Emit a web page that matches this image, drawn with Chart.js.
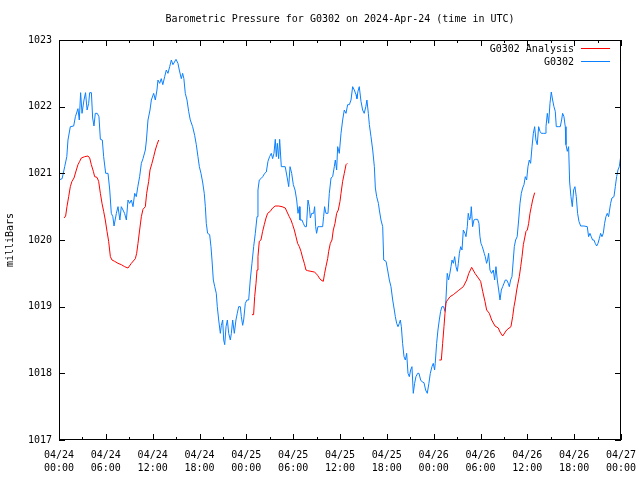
<!DOCTYPE html>
<html>
<head>
<meta charset="utf-8">
<script src="https://cdn.jsdelivr.net/npm/chart.js@4.4.1/dist/chart.umd.min.js"></script>
<style>
  html, body { margin: 0; padding: 0; background: #fff; }
  canvas { display: block; }
</style>
</head>
<body>
<canvas id="pressureChart" width="640" height="480"></canvas>
<script>
// hours since 04/24 00:00 UTC
const stationHours = [
  0.0, 0.4, 0.73, 1.0, 1.15, 1.45, 1.88, 2.1, 2.43, 2.6, 2.77, 2.95, 3.2, 3.4, 3.6, 3.8, 3.93, 4.15, 4.31, 4.48,
  4.65, 4.9, 5.12, 5.3, 5.55, 5.72, 5.98, 6.28, 6.5, 6.7, 6.9, 7.05, 7.35, 7.56, 7.8, 7.98, 8.2, 8.4, 8.63, 8.84,
  9.05, 9.27, 9.48, 9.7, 9.9, 10.1, 10.33, 10.55, 10.76, 11.06, 11.2, 11.4, 11.66, 11.83, 12.13, 12.34, 12.55, 12.68, 12.9, 13.1,
  13.3, 13.54, 13.75, 13.96, 14.18, 14.39, 14.6, 14.99, 15.24, 15.41, 15.67, 15.84, 16.0, 16.18, 16.4, 16.61, 16.82, 17.12, 17.38, 17.59,
  17.8, 17.98, 18.19, 18.4, 18.61, 18.75, 18.87, 19.04, 19.3, 19.47, 19.6, 19.77, 19.95, 20.15, 20.28, 20.46, 20.67, 20.8, 20.97, 21.1,
  21.23, 21.4, 21.57, 21.74, 21.95, 22.08, 22.25, 22.46, 22.67, 22.84, 23.02, 23.23, 23.36, 23.53, 23.66, 23.87, 24.08, 24.3, 24.5, 24.72,
  24.94, 25.15, 25.37, 25.49, 25.66, 25.87, 26.1, 26.35, 26.56, 26.77, 26.98, 27.2, 27.37, 27.54, 27.71, 27.84, 27.97, 28.14, 28.27, 28.48,
  28.7, 28.98, 29.08, 29.29, 29.43, 29.6, 29.81, 30.02, 30.24, 30.45, 30.62, 30.79, 30.87, 31.13, 31.3, 31.5, 31.7, 31.9, 32.07, 32.2,
  32.37, 32.62, 32.75, 32.88, 33.0, 33.17, 33.35, 33.56, 33.78, 33.9, 34.03, 34.2, 34.46, 34.63, 34.85, 35.06, 35.27, 35.4, 35.57, 35.7,
  35.91, 36.13, 36.34, 36.55, 36.77, 36.98, 37.2, 37.41, 37.62, 37.83, 38.05, 38.17, 38.3, 38.47, 38.69, 38.9, 39.1, 39.31, 39.45, 39.63,
  39.76, 39.97, 40.19, 40.4, 40.53, 40.7, 40.92, 41.04, 41.25, 41.47, 41.6, 41.9, 42.1, 42.32, 42.53, 42.75, 42.96, 43.09, 43.26, 43.43,
  43.6, 43.73, 43.86, 44.02, 44.2, 44.37, 44.54, 44.71, 44.88, 45.05, 45.22, 45.39, 45.56, 45.73, 45.95, 46.12, 46.33, 46.55, 46.76, 46.97,
  47.18, 47.39, 47.57, 47.78, 47.95, 48.12, 48.2, 48.38, 48.55, 48.72, 48.89, 49.06, 49.27, 49.45, 49.57, 49.74, 49.91, 50.08, 50.22, 50.35,
  50.52, 50.69, 50.86, 51.03, 51.16, 51.29, 51.46, 51.63, 51.8, 52.01, 52.14, 52.31, 52.43, 52.6, 52.73, 52.82, 52.99, 53.16, 53.33, 53.63,
  53.8, 53.93, 54.06, 54.23, 54.36, 54.48, 54.61, 54.78, 54.91, 55.04, 55.21, 55.42, 55.64, 55.81, 55.98, 56.15, 56.33, 56.5, 56.67, 56.84,
  57.01, 57.18, 57.35, 57.56, 57.69, 57.86, 58.03, 58.2, 58.33, 58.5, 58.7, 58.89, 59.06, 59.23, 59.4, 59.57, 59.74, 59.91, 60.08, 60.25,
  60.42, 60.6, 60.77, 60.94, 61.1, 61.27, 61.45, 61.62, 61.79, 62.05, 62.3, 62.39, 62.56, 62.73, 62.9, 63.07, 63.24, 63.41, 63.58, 63.71,
  63.96, 64.22, 64.39, 64.52, 64.69, 64.86, 64.95, 65.12, 65.29, 65.42, 65.59, 65.76, 65.93, 66.1, 66.27, 66.44, 66.61, 66.83, 67.25, 67.68,
  67.85, 68.02, 68.19, 68.36, 68.53, 68.7, 68.88, 69.05, 69.22, 69.39, 69.56, 69.73, 69.9, 70.07, 70.24, 70.41, 70.67, 70.84, 71.1, 71.27,
  71.44, 71.61, 71.78, 71.96
];
const stationPressure = [
  1020.9, 1020.92, 1021.1, 1021.25, 1021.5, 1021.7, 1021.71, 1021.85, 1021.97, 1021.8, 1022.21, 1021.9, 1022.1, 1022.21, 1021.95, 1022.05, 1022.21, 1022.21, 1021.83, 1021.71,
  1021.9, 1021.9, 1021.85, 1021.51, 1021.5, 1021.25, 1021.0, 1021.0, 1020.75, 1020.4, 1020.35, 1020.21, 1020.4, 1020.5, 1020.3, 1020.5, 1020.45, 1020.4, 1020.3, 1020.6,
  1020.55, 1020.6, 1020.5, 1020.7, 1020.65, 1020.8, 1020.95, 1021.15, 1021.22, 1021.35, 1021.5, 1021.8, 1021.95, 1022.1, 1022.2, 1022.1, 1022.25, 1022.4, 1022.35, 1022.42,
  1022.33, 1022.45, 1022.55, 1022.5, 1022.6, 1022.7, 1022.63, 1022.71, 1022.65, 1022.55, 1022.42, 1022.5, 1022.42, 1022.2, 1022.1, 1021.93, 1021.8, 1021.7, 1021.57, 1021.43,
  1021.25, 1021.1, 1021.0, 1020.87, 1020.7, 1020.5, 1020.25, 1020.1, 1020.08, 1019.9, 1019.7, 1019.4, 1019.3, 1019.2, 1019.0, 1018.8, 1018.6, 1018.72, 1018.8, 1018.5,
  1018.43, 1018.7, 1018.8, 1018.6, 1018.5, 1018.6, 1018.8, 1018.6, 1018.8, 1018.9, 1019.0, 1019.0, 1018.85, 1018.72, 1018.8, 1019.05, 1019.1, 1019.1, 1019.4, 1019.65,
  1019.9, 1020.1, 1020.35, 1020.75, 1020.9, 1020.92, 1020.95, 1021.0, 1021.02, 1021.18, 1021.25, 1021.3, 1021.22, 1021.3, 1021.51, 1021.25, 1021.45, 1021.22, 1021.51, 1021.1,
  1021.1, 1021.1, 1021.1, 1020.9, 1020.8, 1021.1, 1021.0, 1020.83, 1020.75, 1020.6, 1020.4, 1020.5, 1020.3, 1020.3, 1020.25, 1020.2, 1020.2, 1020.6, 1020.5, 1020.33,
  1020.4, 1020.4, 1020.5, 1020.2, 1020.1, 1020.2, 1020.2, 1020.2, 1020.2, 1020.35, 1020.5, 1020.4, 1020.4, 1020.7, 1020.93, 1020.95, 1021.1, 1021.2, 1021.05, 1021.4,
  1021.3, 1021.6, 1021.8, 1021.95, 1021.9, 1022.03, 1022.03, 1022.1, 1022.3, 1022.25, 1022.18, 1022.12, 1022.23, 1022.3, 1022.08, 1021.95, 1021.9, 1022.0, 1022.1, 1021.9,
  1021.73, 1021.55, 1021.35, 1021.1, 1020.78, 1020.65, 1020.55, 1020.45, 1020.3, 1020.2, 1019.7, 1019.68, 1019.55, 1019.4, 1019.3, 1019.1, 1018.95, 1018.85, 1018.75, 1018.7,
  1018.75, 1018.8, 1018.7, 1018.45, 1018.25, 1018.2, 1018.3, 1018.0, 1017.95, 1018.05, 1018.1, 1017.7, 1017.85, 1017.95, 1018.0, 1018.0, 1017.9, 1017.87, 1017.86, 1017.75,
  1017.7, 1017.85, 1018.0, 1018.1, 1018.15, 1018.05, 1018.15, 1018.45, 1018.65, 1018.8, 1018.93, 1019.0, 1019.0, 1018.93, 1019.1, 1019.5, 1019.4, 1019.5, 1019.6, 1019.7,
  1019.65, 1019.75, 1019.6, 1019.53, 1019.65, 1019.8, 1019.9, 1019.85, 1020.15, 1020.1, 1020.05, 1020.2, 1020.4, 1020.3, 1020.35, 1020.5, 1020.2, 1020.3, 1020.31, 1020.31,
  1020.25, 1020.05, 1019.95, 1019.9, 1019.85, 1019.8, 1019.75, 1019.65, 1019.7, 1019.8, 1019.55, 1019.5, 1019.55, 1019.4, 1019.6, 1019.4, 1019.25, 1019.1, 1019.25, 1019.3,
  1019.35, 1019.4, 1019.4, 1019.35, 1019.3, 1019.4, 1019.45, 1019.7, 1019.9, 1020.0, 1020.05, 1020.3, 1020.55, 1020.7, 1020.78, 1020.83, 1020.95, 1020.9, 1021.1, 1021.2,
  1021.15, 1021.4, 1021.6, 1021.7, 1021.5, 1021.43, 1021.7, 1021.63, 1021.6, 1021.6, 1021.6, 1021.7, 1021.9, 1021.75, 1022.05, 1022.22, 1022.1, 1022.0, 1021.93, 1021.7,
  1021.7, 1021.7, 1021.8, 1021.9, 1021.85, 1021.7, 1021.43, 1021.33, 1021.4, 1020.87, 1020.65, 1020.5, 1020.75, 1020.8, 1020.65, 1020.4, 1020.28, 1020.21, 1020.21, 1020.2,
  1020.05, 1020.1, 1020.05, 1020.0, 1020.0, 1019.95, 1019.91, 1019.95, 1020.02, 1020.1, 1020.05, 1020.1, 1020.25, 1020.35, 1020.4, 1020.35, 1020.55, 1020.63, 1020.65, 1020.8,
  1020.95, 1021.05, 1021.1, 1021.25
];

// analysis runs, null = gap between runs
const analysisHours = [
  0.64, 0.85, 1.02, 1.24, 1.45, 1.66, 1.92, 2.22, 2.43, 2.65, 2.86, 3.29, 3.71, 3.93, 4.14, 4.4, 4.57, 4.87, 5.08, 5.3,
  5.51, 5.72, 5.93, 6.15, 6.36, 6.58, 6.79, 7.13, 7.56, 7.98, 8.41, 8.84, 9.27, 9.78, 9.95, 10.12, 10.33, 10.55, 10.76, 11.06,
  11.23, 11.49, 11.66, 11.91, 12.13, 12.34, 12.55, 12.77,
  18,
  24.72, 24.93, 25.07, 25.24, 25.37, 25.49, 25.66, 25.87, 26.09, 26.3, 26.52, 26.73, 27.07, 27.37, 27.71, 28.14, 28.57, 28.99, 29.1, 29.5,
  29.72, 29.93, 30.15, 30.36, 30.57, 30.79, 31.0, 31.22, 31.43, 31.64, 31.85, 32.28, 32.71, 32.92, 33.13, 33.35, 33.56, 33.86, 34.03, 34.2,
  34.42, 34.55, 34.76, 34.97, 35.14, 35.36, 35.57, 35.78, 36.0, 36.13, 36.34, 36.55, 36.77, 36.94,
  42,
  48.72, 48.98, 49.15, 49.32, 49.45, 49.58, 49.66, 50.1, 50.52, 51.15, 51.8, 52.23, 52.5, 52.87, 53.29, 53.72, 54.02, 54.28, 54.57, 54.79,
  55.13, 55.43, 55.86, 56.28, 56.5, 56.84, 57.35, 57.9, 58.12, 58.29, 58.45, 58.64, 58.8, 58.97, 59.15, 59.32, 59.49, 59.66, 59.83, 60.0,
  60.17, 60.34, 60.51, 60.68, 60.94
];
const analysisPressure = [
  1020.33, 1020.36, 1020.5, 1020.65, 1020.8, 1020.88, 1020.93, 1021.05, 1021.13, 1021.18, 1021.23, 1021.25, 1021.26, 1021.23, 1021.13, 1021.03, 1020.95, 1020.94, 1020.88, 1020.7,
  1020.55, 1020.43, 1020.3, 1020.13, 1019.98, 1019.75, 1019.7, 1019.68, 1019.65, 1019.63, 1019.6, 1019.58, 1019.65, 1019.72, 1019.8, 1019.95, 1020.15, 1020.35, 1020.46, 1020.5,
  1020.7, 1020.88, 1021.05, 1021.15, 1021.25, 1021.35, 1021.43, 1021.5,
  null,
  1018.88, 1018.88, 1019.15, 1019.35, 1019.55, 1019.75, 1019.98, 1020.0, 1020.13, 1020.23, 1020.33, 1020.4, 1020.43, 1020.48, 1020.51, 1020.51, 1020.5, 1020.48, 1020.45, 1020.35,
  1020.3, 1020.23, 1020.15, 1020.05, 1019.95, 1019.9, 1019.83, 1019.73, 1019.65, 1019.55, 1019.54, 1019.53, 1019.52, 1019.5, 1019.47, 1019.43, 1019.4, 1019.38, 1019.5, 1019.6,
  1019.72, 1019.83, 1019.95, 1020.0, 1020.15, 1020.25, 1020.4, 1020.45, 1020.58, 1020.7, 1020.88, 1021.0, 1021.13, 1021.15,
  null,
  1018.2, 1018.2, 1018.45, 1018.7, 1018.9, 1019.05, 1019.08, 1019.15, 1019.18, 1019.24, 1019.3, 1019.4, 1019.5, 1019.59, 1019.5, 1019.43, 1019.38, 1019.23, 1019.08, 1018.95,
  1018.9, 1018.8, 1018.71, 1018.68, 1018.62, 1018.56, 1018.65, 1018.7, 1018.85, 1019.0, 1019.1, 1019.25, 1019.35, 1019.45, 1019.6, 1019.75, 1019.93, 1020.03, 1020.13, 1020.15,
  1020.25, 1020.4, 1020.5, 1020.6, 1020.71
];

// x tick labels, one per 6 hours
const tickDays = ['04/24', '04/24', '04/24', '04/24', '04/25', '04/25', '04/25', '04/25', '04/26', '04/26', '04/26', '04/26', '04/27'];
const tickTimes = ['00:00', '06:00', '12:00', '18:00', '00:00', '06:00', '12:00', '18:00', '00:00', '06:00', '12:00', '18:00', '00:00'];

const titulo = 'Barometric Pressure for G0302 on 2024-Apr-24 (time in UTC)';
const fonte = 'DejaVu Sans Mono, monospace';

function pares(xs, ys) {
    return xs.map((x, i) => ({ x: x, y: ys[i] }));
}

// moldura, ticks para dentro, titulo e legenda no estilo gnuplot
const gnuplotStyle = {
    id: 'gnuplotStyle',
    afterDraw(chart) {
        const ctx = chart.ctx;
        const area = chart.chartArea;
        const sx = chart.scales.x;
        const sy = chart.scales.y;
        ctx.save();
        ctx.strokeStyle = '#000';
        ctx.lineWidth = 1;
        ctx.strokeRect(area.left + 0.5, area.top + 0.5, area.right - area.left - 1, area.bottom - area.top - 1);

        ctx.beginPath();
        for (let h = 0; h <= 72; h += 3) {
            const px = Math.round(sx.getPixelForValue(h)) + 0.5;
            const len = h % 6 === 0 ? 6 : 3;
            ctx.moveTo(px, area.bottom);
            ctx.lineTo(px, area.bottom - len);
            ctx.moveTo(px, area.top);
            ctx.lineTo(px, area.top + len);
        }
        for (let v = 1017; v <= 1023; v++) {
            const py = Math.round(sy.getPixelForValue(v)) + 0.5;
            ctx.moveTo(area.left, py);
            ctx.lineTo(area.left + 6, py);
            ctx.moveTo(area.right, py);
            ctx.lineTo(area.right - 6, py);
        }
        ctx.stroke();

        ctx.fillStyle = '#000';
        ctx.font = '10px ' + fonte;
        ctx.textBaseline = 'middle';
        ctx.textAlign = 'center';
        ctx.fillText(titulo, (area.left + area.right) / 2, 19);

        // legenda
        const items = [
            { label: 'G0302 Analysis', color: chart.data.datasets[0].borderColor, y: 49 },
            { label: 'G0302', color: chart.data.datasets[1].borderColor, y: 62 }
        ];
        ctx.textAlign = 'right';
        items.forEach(item => {
            ctx.fillStyle = '#000';
            ctx.fillText(item.label, 574, item.y);
            ctx.strokeStyle = item.color;
            ctx.beginPath();
            ctx.moveTo(581, item.y - 0.5);
            ctx.lineTo(610, item.y - 0.5);
            ctx.stroke();
        });
        ctx.restore();
    }
};

const ctx = document.getElementById('pressureChart').getContext('2d');
new Chart(ctx, {
    type: 'line',
    data: {
        datasets: [{
            label: 'G0302 Analysis',
            data: pares(analysisHours, analysisPressure),
            borderColor: '#ff0000',
            borderWidth: 1,
            pointRadius: 0,
            tension: 0,
            spanGaps: false
        }, {
            label: 'G0302',
            data: pares(stationHours, stationPressure),
            borderColor: '#0a80ff',
            borderWidth: 1,
            pointRadius: 0,
            tension: 0
        }]
    },
    options: {
        responsive: false,
        animation: false,
        layout: {
            padding: { top: 40, right: 19, left: 0, bottom: 0 }
        },
        plugins: {
            legend: { display: false },
            title: { display: false },
            tooltip: { enabled: false }
        },
        scales: {
            x: {
                type: 'linear',
                min: 0,
                max: 72,
                grid: { display: false, drawTicks: false },
                border: { display: false },
                afterFit: scale => {
                    scale.height = 40;
                    scale.paddingLeft = 0;
                    scale.paddingRight = 0;
                },
                ticks: {
                    stepSize: 6,
                    autoSkip: false,
                    maxRotation: 0,
                    padding: 9,
                    color: '#000',
                    font: { family: fonte, size: 10, lineHeight: 1.3 },
                    callback: (value, index) => [tickDays[index], tickTimes[index]]
                }
            },
            y: {
                min: 1017,
                max: 1023,
                grid: { display: false, drawTicks: false },
                border: { display: false },
                afterFit: scale => {
                    scale.width = 59;
                    scale.paddingTop = 0;
                    scale.paddingBottom = 0;
                },
                title: {
                    display: true,
                    text: 'milliBars',
                    color: '#000',
                    font: { family: fonte, size: 10 },
                    padding: { top: 4, bottom: 0 }
                },
                ticks: {
                    stepSize: 1,
                    padding: 7,
                    color: '#000',
                    font: { family: fonte, size: 10 },
                    callback: value => String(value)
                }
            }
        }
    },
    plugins: [gnuplotStyle]
});
</script>
</body>
</html>
